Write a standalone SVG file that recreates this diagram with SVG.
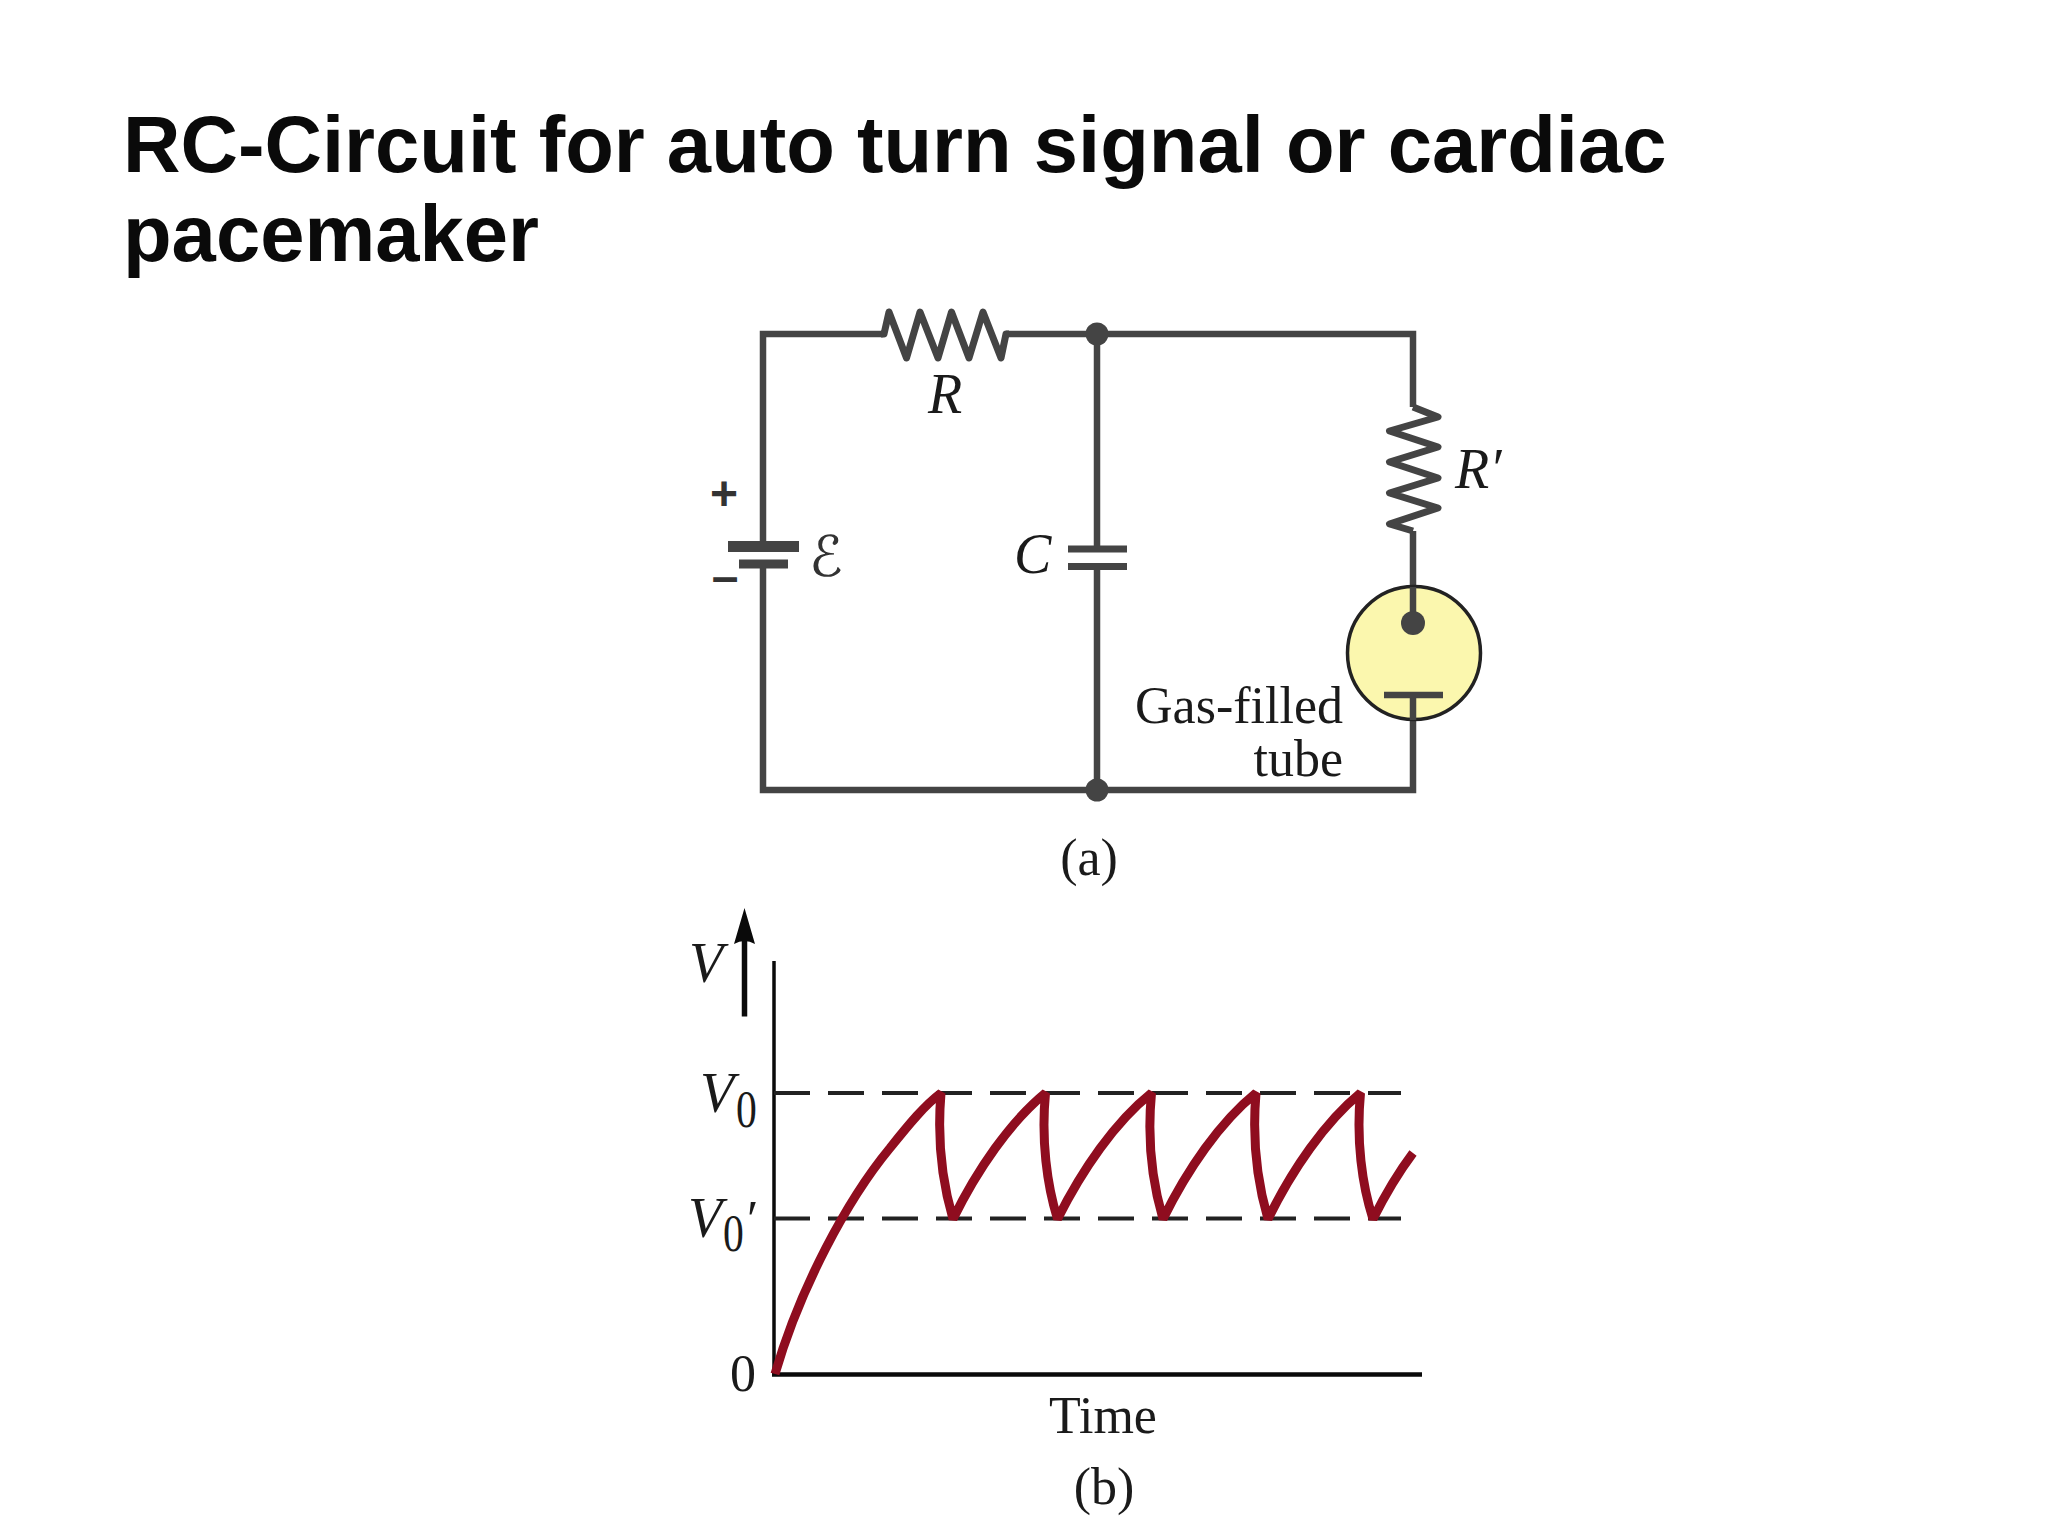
<svg xmlns="http://www.w3.org/2000/svg" width="2048" height="1536" viewBox="0 0 2048 1536">
<defs>
<style>
.title{font-family:"Liberation Sans",Arial,sans-serif;font-weight:700;font-size:79.600px;fill:#0a0a0a}
.s{font-family:"Liberation Serif","Times New Roman",serif;font-size:52px;fill:#1a1a1a}
.i{font-style:italic;font-size:56px}
.w{fill:none;stroke:#444;stroke-width:6.500;stroke-linejoin:miter;stroke-linecap:butt}
.r{fill:none;stroke:#444;stroke-width:7;stroke-linejoin:round}
.p{stroke:#444;fill:none}
.ax{stroke:#0a0a0a;fill:none}
.dash{stroke:#222;stroke-width:4;stroke-dasharray:36 18;fill:none}
.curve{fill:none;stroke:#8f0d1f;stroke-width:9;stroke-linejoin:bevel}
</style>
</defs>
<rect width="2048" height="1536" fill="#fff"/>
<g id="title">
<text class="title" x="123" y="172">RC-Circuit for auto turn signal or cardiac</text>
<text class="title" x="123" y="261">pacemaker</text>
</g>
<g id="connectors">
<path class="w" d="M883 334H763V546M763 564V790H1413V695M1006 334H1413V407M1413 531V623M1097 334V549M1097 566V790"/>
</g>
<g id="resistor-R">
<path class="r" d="M881 334H884L889 312 906.500 358 920 312 938 358 951.500 312 969 358 983 312 1001 358 1006 334H1009"/>
<text class="s i" x="945" y="413" text-anchor="middle">R</text>
</g>
<g id="resistor-R-prime">
<path class="r" d="M1413 407L1438 417 1389.500 431 1438 447 1389.500 462 1438 478 1389.500 493 1438 508 1389.500 524 1413 531"/>
<text class="s i" x="1455" y="488">R′</text>
</g>
<g id="battery">
<path class="p" stroke-width="11" d="M728 546.500H799"/>
<path class="p" stroke-width="9" d="M739 564H788"/>
<text x="724" y="510" text-anchor="middle" font-family="Liberation Sans,sans-serif" font-weight="700" font-size="48" fill="#333">+</text>
<text x="725" y="593" text-anchor="middle" font-family="Liberation Sans,sans-serif" font-weight="700" font-size="48" fill="#333">–</text>
<text x="826" y="576" text-anchor="middle" font-family="DejaVu Serif,DejaVu Sans,serif" font-size="56" fill="#333">ℰ</text>
</g>
<g id="capacitor">
<path class="p" stroke-width="7" d="M1068 549H1127M1068 566.500H1127"/>
<text class="s i" x="1014" y="573">C</text>
</g>
<g id="junctions" fill="#444">
<circle cx="1097" cy="334" r="11.500"/>
<circle cx="1097" cy="790" r="11.500"/>
</g>
<g id="gas-tube">
<circle cx="1414" cy="653" r="66.500" fill="#fbf7ae" stroke="#222" stroke-width="3.500"/>
<path class="w" d="M1413 587V623M1384 695H1443M1413 695V720"/>
<circle cx="1413" cy="623" r="12" fill="#444"/>
<text class="s" x="1343" y="723" text-anchor="end">Gas-filled</text>
<text class="s" x="1343" y="776" text-anchor="end">tube</text>
</g>
<text id="label-a" class="s" x="1089" y="875" text-anchor="middle">(a)</text>
<g id="plot">
<path class="ax" stroke-width="3.500" d="M774 961V1376"/>
<path class="ax" stroke-width="4.500" d="M772 1374.500H1422"/>
<path class="ax" stroke-width="5.500" d="M744.500 1016.500V930"/>
<path d="M744.500 908L755 944Q744.500 938 734 944z" fill="#0a0a0a"/>
<path class="dash" d="M774 1093H1401M774 1218.500H1401"/>
<path class="curve" d="M775 1374C800 1288 847 1200 890 1148 910 1123 925 1105 941 1093 937 1140 943 1185 953 1219 977 1170 1010 1122 1045.500 1093 1041 1140 1047 1185 1057.500 1219 1082 1170 1115 1122 1151.500 1093 1147 1140 1153 1185 1163 1219 1187 1170 1220 1122 1256 1093 1252 1140 1258 1185 1268 1219 1292 1170 1325 1122 1360.500 1093 1356 1140 1362 1185 1373 1219 1385 1195 1398 1173 1413 1153"/>
<text class="s i" x="689" y="982">V</text>
<text class="s i" x="700" y="1112">V</text>
<text class="s" transform="translate(736 1127) scale(.8 1)">0</text>
<text class="s i" x="688" y="1237">V</text>
<text class="s" transform="translate(723 1251) scale(.8 1)">0</text>
<text class="s" x="747" y="1237">′</text>
<text class="s" x="730" y="1391">0</text>
<text class="s" x="1103" y="1433" text-anchor="middle">Time</text>
<text class="s" x="1104" y="1504" text-anchor="middle">(b)</text>
</g>
</svg>
